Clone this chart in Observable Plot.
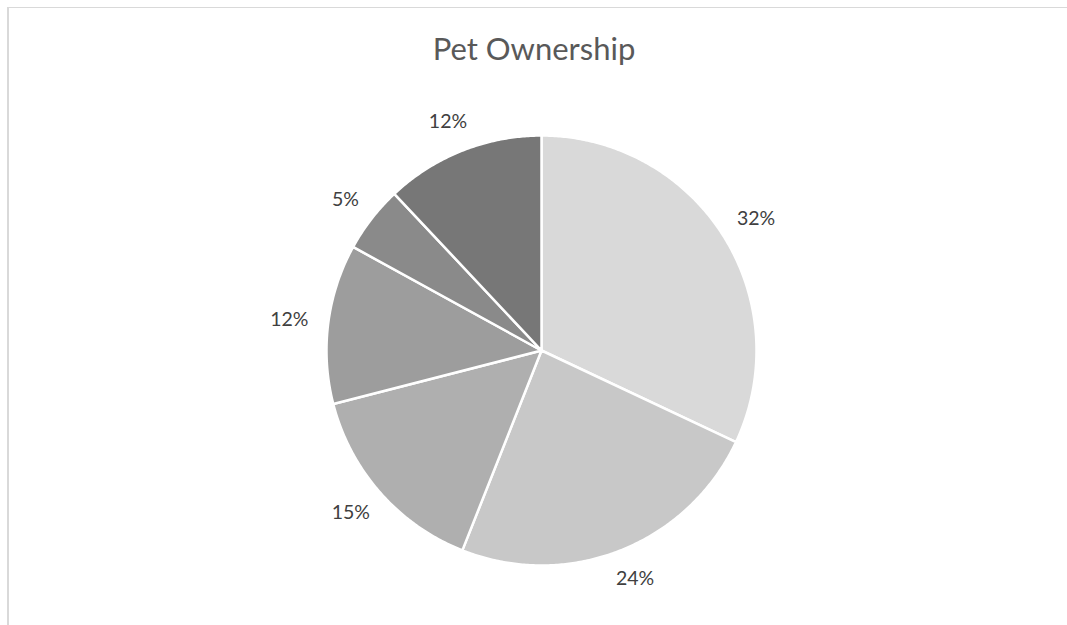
<!DOCTYPE html>
<html><head><meta charset="utf-8">
<script src="https://cdn.jsdelivr.net/npm/d3@7"></script>
<script src="https://cdn.jsdelivr.net/npm/@observablehq/plot@0.6"></script>
<style>
body{margin:0;background:#fff;}
#wrap{position:relative;width:1067px;height:625px;overflow:hidden;}
#border{position:absolute;left:7px;top:7px;width:1200px;height:800px;border-top:1px solid #d9d9d9;border-left:2px solid #d9d9d9;}
#chart{position:absolute;left:0;top:0;}
</style></head><body>
<div id="wrap"><div id="border"></div><div id="chart"></div></div>
<script>
const title = "Pet Ownership";
const categories = ["Slice 1", "Slice 2", "Slice 3", "Slice 4", "Slice 5", "Slice 6"];
const values = [32, 24, 15, 12, 5, 12];
const labels = ["32%", "24%", "15%", "12%", "5%", "12%"];
const colors = ["#d9d9d9", "#c8c8c8", "#afafaf", "#9d9d9d", "#8a8a8a", "#777777"];

const R = 215, gap = 21, labelSize = 19.5;
const arcs = d3.pie().sort(null).value(d => d)(values);

// slice outlines (center -> arc -> center) in unit-circle coordinates
const slicePts = [];
arcs.forEach((a, i) => {
  slicePts.push({cat: categories[i], x: 0, y: 0});
  const n = Math.max(2, Math.ceil((a.endAngle - a.startAngle) / (Math.PI / 360)));
  for (let k = 0; k <= n; ++k) {
    const t = a.startAngle + (a.endAngle - a.startAngle) * k / n;
    slicePts.push({cat: categories[i], x: Math.sin(t), y: Math.cos(t)});
  }
  slicePts.push({cat: categories[i], x: 0, y: 0});
});

const labelPts = arcs.map((a, i) => {
  const t = (a.startAngle + a.endAngle) / 2;
  const hw = labels[i].length * 0.62 * labelSize / 2;
  const hh = 10;
  return {
    label: labels[i],
    x: Math.sin(t) * (R + gap + hw) / R,
    y: Math.cos(t) * (R + gap + hh) / R
  };
});

const cx = 541, cy = 350;
const chart = Plot.plot({
  width: 1067,
  height: 625,
  margin: 0,
  style: {fontFamily: "Lato, sans-serif", background: "transparent"},
  x: {domain: [-1, 1], range: [cx - R, cx + R], axis: null},
  y: {domain: [-1, 1], range: [cy + R, cy - R], axis: null},
  color: {domain: categories, range: colors},
  marks: [
    Plot.line(slicePts, {x: "x", y: "y", z: "cat", fill: "cat", stroke: "white", strokeWidth: 2.5, strokeLinejoin: "round"}),
    Plot.text(labelPts, {x: "x", y: "y", text: "label", fontSize: labelSize, fill: "#404040", textAnchor: "middle", lineAnchor: "middle"}),
    Plot.text([title], {frameAnchor: "top", dy: 50, lineAnchor: "middle", fontSize: 31, fill: "#595959"})
  ]
});
document.getElementById("chart").appendChild(chart);
</script>
</body></html>
